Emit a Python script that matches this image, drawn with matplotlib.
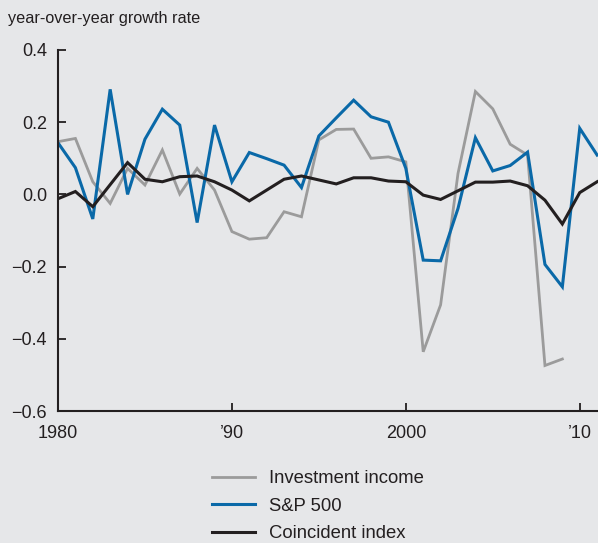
import matplotlib
matplotlib.use("Agg")
import matplotlib.pyplot as plt

years = list(range(1980, 2012))
years_inv = list(range(1980, 2010))

investment_income = [0.146, 0.155, 0.035, -0.025, 0.072, 0.026, 0.123, 0.001, 0.072, 0.012,
                     -0.103, -0.124, -0.120, -0.048, -0.062, 0.151, 0.180, 0.181, 0.100, 0.104,
                     0.090, -0.436, -0.306, 0.058, 0.285, 0.237, 0.139, 0.109, -0.474, -0.456]
sp500 = [0.143, 0.074, -0.068, 0.291, 0.000, 0.153, 0.236, 0.192, -0.078, 0.192,
         0.035, 0.116, 0.099, 0.081, 0.019, 0.162, 0.212, 0.261, 0.215, 0.200,
         0.072, -0.182, -0.184, -0.039, 0.157, 0.065, 0.080, 0.117, -0.194, -0.256,
         0.183, 0.109]
coincident = [-0.012, 0.008, -0.034, 0.027, 0.088, 0.042, 0.035, 0.049, 0.051, 0.035,
              0.012, -0.018, 0.012, 0.042, 0.051, 0.040, 0.029, 0.046, 0.046, 0.037,
              0.035, -0.002, -0.014, 0.010, 0.034, 0.034, 0.037, 0.024, -0.016, -0.082,
              0.005, 0.035]

series_labels = ["Investment income", "S&P 500", "Coincident index"]
x_ticks = [1980, 1990, 2000, 2010]
x_tick_labels = ["1980", "\u201990", "2000", "\u201910"]
y_ticks = [-0.6, -0.4, -0.2, 0.0, 0.2, 0.4]
y_tick_labels = ["\u22120.6", "\u22120.4", "\u22120.2", "0.0", "0.2", "0.4"]

BG = "#e6e7e9"
GRAY = "#9b9b9b"
BLUE = "#0a69a8"
BLACK = "#231f20"

plt.rcParams['font.family'] = ['Liberation Sans', 'DejaVu Sans']

W, H = 598, 543
fig = plt.figure(figsize=(W / 100, H / 100), dpi=100, facecolor=BG)
ax = fig.add_axes([58 / W, 1 - 411 / H, (W - 58) / W, (411 - 50) / H])
ax.set_facecolor(BG)

l1, = ax.plot(years_inv, investment_income, color=GRAY, lw=2.0, label=series_labels[0],
              solid_joinstyle='miter')
l2, = ax.plot(years, sp500, color=BLUE, lw=2.2, label=series_labels[1], solid_joinstyle='miter')
l3, = ax.plot(years, coincident, color=BLACK, lw=2.2, label=series_labels[2], solid_joinstyle='miter')

ax.set_xlim(1980, 2011.05)
ax.set_ylim(-0.6, 0.4)
ax.set_xticks(x_ticks)
ax.set_xticklabels(x_tick_labels)
ax.set_yticks(y_ticks)
ax.set_yticklabels(y_tick_labels)

for s in ["top", "right"]:
    ax.spines[s].set_visible(False)
for s in ["left", "bottom"]:
    ax.spines[s].set_linewidth(1.5)
    ax.spines[s].set_color(BLACK)

ax.tick_params(axis='both', direction='in', length=6, width=1.3, color=BLACK,
               labelsize=13, labelcolor=BLACK)
ax.tick_params(axis='y', pad=8)
ax.tick_params(axis='x', pad=10)

fig.text(8 / W, 1 - 19 / H, "year-over-year growth rate", fontsize=11.7, color=BLACK,
         ha='left', va='center')

leg = fig.legend(handles=[l1, l2, l3], loc='upper left',
                 bbox_to_anchor=(212 / W, 1 - 470 / H), frameon=False,
                 fontsize=13.3, handlelength=2.33, handletextpad=0.76,
                 labelspacing=0.57, borderpad=0, borderaxespad=0)
for t in leg.get_texts():
    t.set_color(BLACK)

fig.savefig("out.png", dpi=100, facecolor=BG)
